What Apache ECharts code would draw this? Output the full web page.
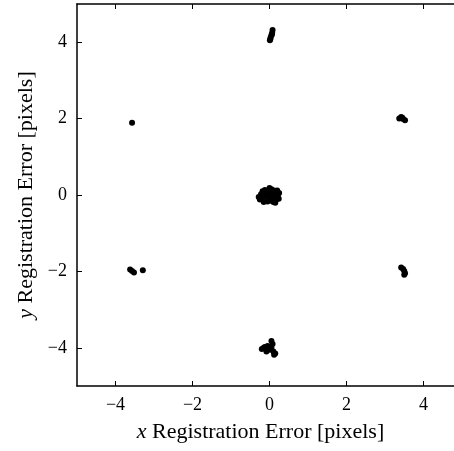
<!DOCTYPE html>
<html><head><meta charset="utf-8">
<script src="https://cdn.jsdelivr.net/npm/echarts@6/dist/echarts.min.js"></script>
<style>html,body{margin:0;padding:0;background:#fff}#c{width:454px;height:451px}</style>
</head><body><div id="c"></div>
<script>
var xTicks = [-4, -2, 0, 2, 4];
var yTicks = [-4, -2, 0, 2, 4];
var centerCluster = [
 [0,0],[0.05,0.03],[-0.05,0.02],[0.1,0.05],[-0.1,-0.02],[0.15,0],[-0.15,-0.05],
 [0.02,0.1],[-0.02,-0.1],[0.08,-0.08],[-0.08,0.08],[0.2,0.03],[0.22,-0.05],
 [-0.2,-0.08],[-0.25,-0.12],[0.12,0.12],[-0.12,0.13],[0.05,-0.15],[-0.05,-0.17],
 [0.18,-0.12],[0.25,0.05],[-0.18,0.1],[0.1,-0.18],[-0.15,-0.18],[0,0.18],
 [0.2,0.12],[-0.22,0.02],[0.15,-0.2],[0.24,-0.1],[-0.28,-0.05],[0.05,0.15]
];
var topCluster = [[0.08,4.32],[0.07,4.25],[0.05,4.18],[0.03,4.12],[0.02,4.08],[0.06,4.2],[0.01,4.05]];
var bottomCluster = [[0.05,-3.82],[0.08,-3.9],[-0.05,-3.95],[-0.15,-4.0],[-0.2,-4.03],[0.0,-4.05],
 [0.1,-4.1],[0.15,-4.15],[-0.08,-4.1],[-0.12,-3.98],[0.05,-4.0],[0.12,-4.18]];
var leftTop = [[-3.57,1.89]];
var leftBottom = [[-3.62,-1.95],[-3.57,-1.99],[-3.52,-2.03],[-3.29,-1.97]];
var rightTop = [[3.37,2.0],[3.42,2.04],[3.47,1.99],[3.52,1.96],[3.45,2.02]];
var rightBottom = [[3.42,-1.9],[3.47,-1.94],[3.5,-1.99],[3.52,-2.05],[3.5,-2.09]];

var allPts = [].concat(centerCluster, topCluster, bottomCluster, leftTop, leftBottom, rightTop, rightBottom);
var fmt = function(v){ return String(v).replace('-', '\u2212'); };
var font = 'Liberation Serif';
var chart = echarts.init(document.getElementById('c'));
function tick(vals){ return {show: true, inside: true, length: 5, customValues: vals, lineStyle: {color: '#000', width: 1}}; }
var line = {show: true, onZero: false, lineStyle: {color: '#000', width: 1.5}};
chart.setOption({
  animation: false,
  grid: {left: 77, width: 385, top: 4, height: 382, containLabel: false, outerBoundsMode: 'none'},
  xAxis: [
    {
      type: 'value', position: 'bottom', min: -5, max: 5, interval: 1,
      axisLine: line, axisTick: tick(xTicks), splitLine: {show: false},
      axisLabel: {customValues: xTicks, formatter: fmt, color: '#000', fontFamily: font, fontSize: 18, margin: 10},
      name: '{i|x} Registration Error [pixels]',
      nameLocation: 'middle', nameGap: 35,
      nameTextStyle: {color: '#000', fontFamily: font, fontSize: 22, padding: [0, 18, 0, 0],
        rich: {i: {fontStyle: 'italic', fontFamily: font, fontSize: 22, color: '#000'}}}
    },
    {
      type: 'value', position: 'top', min: -5, max: 5, interval: 1,
      axisLine: line, axisTick: tick(xTicks), splitLine: {show: false},
      axisLabel: {show: false}
    }
  ],
  yAxis: [
    {
      type: 'value', position: 'left', min: -5, max: 5, interval: 1,
      axisLine: line, axisTick: tick(yTicks), splitLine: {show: false},
      axisLabel: {customValues: yTicks, formatter: fmt, color: '#000', fontFamily: font, fontSize: 18, margin: 10},
      name: '{i|y} Registration Error [pixels]',
      nameLocation: 'middle', nameGap: 34, nameRotate: 90,
      nameTextStyle: {color: '#000', fontFamily: font, fontSize: 22,
        rich: {i: {fontStyle: 'italic', fontFamily: font, fontSize: 22, color: '#000'}}}
    },
    {
      type: 'value', position: 'right', min: -5, max: 5, interval: 1,
      axisLine: line, axisTick: tick(yTicks), splitLine: {show: false},
      axisLabel: {show: false}
    }
  ],
  series: [{
    type: 'scatter', data: allPts, symbol: 'circle', symbolSize: 6,
    itemStyle: {color: '#000', opacity: 1}, xAxisIndex: 0, yAxisIndex: 0
  }]
});
</script></body></html>
